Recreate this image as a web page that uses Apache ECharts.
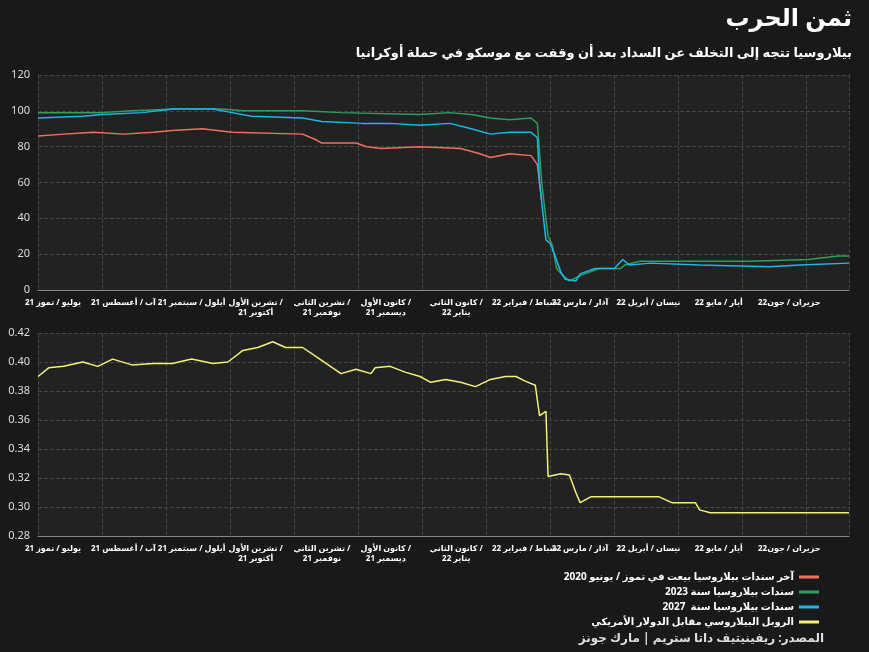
<!DOCTYPE html>
<html><head><meta charset="utf-8">
<script src="https://cdn.jsdelivr.net/npm/echarts@6/dist/echarts.min.js"></script>
<style>html,body{margin:0;background:#191919}#main{width:869px;height:652px}</style>
</head><body><div id="main"></div>
<script>
// x = days since 1 July 2021
var monthTicks = [7, 40, 72, 102, 133, 163, 196, 228, 254, 286, 319, 352];
var monthLabels = ['يوليو / تموز 21', 'آب / أغسطس 21', 'أيلول / سبتمبر 21', 'تشرين الأول /\nأكتوبر 21',
  'تشرين الثاني /\nنوفمبر 21', 'كانون الأول /\nديسمبر 21', 'كانون الثاني /\nيناير 22', 'شباط / فبراير 22',
  'آذار / مارس 22', 'نيسان / أبريل 22', 'أيار / مايو 22', 'حزيران / جون22'];

var bond2020 = [[0,86],[12,87],[26,88],[40,87],[54,88],[63,89],[77,90],[84,89],[91,88],[124,87],[130,84],[133,82],
  [149,82],[154,80],[161,79],[179,80],[198,79],[207,76],[212,74],[221,76],[231,75],[234,70],[235,60],[236,50]];
var bond2023 = [[0,99],[30,99],[44,100],[65,101],[86,101],[96,100],[124,100],[142,99],[179,98],[193,99],[203,98],
  [212,96],[221,95],[231,96],[234,93],[236,60],[239,30],[241,25],[243,12],[246,8],[249,5],[254,8],[263,12],
  [273,12],[275,14],[282,16],[333,16],[361,17],[375,19],[380,19]];
var bond2027 = [[0,96],[21,97],[30,98],[49,99],[63,101],[82,101],[91,99],[100,97],[124,96],[133,94],[152,93],
  [165,93],[179,92],[193,93],[203,90],[212,87],[221,88],[231,88],[234,85],[235,60],[238,28],[240,26],[242,20],
  [245,10],[247,6],[252,5],[254,9],[261,12],[270,12],[274,17],[277,14],[287,15],[310,14],[343,13],[357,14],[380,15]];
var ruble = [[0,0.39],[5,0.396],[12,0.397],[21,0.40],[28,0.397],[35,0.402],[44,0.398],[54,0.399],[63,0.399],
  [72,0.402],[82,0.399],[89,0.40],[96,0.408],[103,0.41],[110,0.414],[116,0.41],[124,0.41],[130,0.404],
  [137,0.397],[142,0.392],[149,0.395],[156,0.392],[158,0.396],[165,0.397],[172,0.393],[179,0.39],[184,0.386],
  [191,0.388],[198,0.386],[205,0.383],[212,0.388],[219,0.39],[224,0.39],[228,0.387],[233,0.384],[235,0.363],
  [238,0.366],[239,0.321],[245,0.323],[249,0.322],[252,0.31],[254,0.303],[259,0.307],[263,0.307],[291,0.307],
  [297,0.303],[308,0.303],[310,0.298],[315,0.296],[380,0.296]];

var names = ['آخر سندات بيلاروسيا بيعت في تموز / يونيو 2020', 'سندات بيلاروسيا سنة 2023', 'سندات بيلاروسيا سنة  2027', 'الروبل البيلاروسي مقابل الدولار الأمريكي'];
var fontF = 'Noto Sans, DejaVu Sans';

function xAxis(gi) {
  return {
    type: 'value', gridIndex: gi, min: 0, max: 380, interval: 30,
    axisLine: { lineStyle: { color: '#888' } },
    axisTick: { show: false },
    splitLine: { show: true, lineStyle: { color: '#444', type: 'dashed' } },
    axisLabel: {
      customValues: monthTicks, color: '#fff', fontSize: 8, fontWeight: 'bold', lineHeight: 10,
      hideOverlap: false, showMinLabel: true,
      formatter: function (v) { return monthLabels[monthTicks.indexOf(v)] || ''; }
    }
  };
}
function yAxis(gi, min, max, iv, fmt) {
  return {
    type: 'value', gridIndex: gi, min: min, max: max, interval: iv,
    axisLine: { show: false }, axisTick: { show: false },
    splitLine: { lineStyle: { color: '#444', type: 'dashed' } },
    axisLabel: { color: '#ddd', fontSize: 11, formatter: fmt }
  };
}

var chart = echarts.init(document.getElementById('main'));
chart.setOption({
  backgroundColor: '#191919',
  textStyle: { fontFamily: fontF },
  title: [
    { text: 'ثمن الحرب', right: 12, top: 2, textStyle: { color: '#fff', fontSize: 24, fontWeight: 'bold' } },
    { text: 'بيلاروسيا تتجه إلى التخلف عن السداد بعد أن وقفت مع موسكو في حملة أوكرانيا', right: 12, top: 42,
      textStyle: { color: '#fff', fontSize: 13, fontWeight: 'bold' } },
    { text: 'المصدر: ريفينيتيف داتا ستريم | مارك جونز', right: 40, top: 628, textStyle: { color: '#ddd', fontSize: 12, fontWeight: 'bold' } }
  ],
  grid: [
    { left: 38, right: 20, top: 75, height: 215, backgroundColor: '#222', show: true, borderWidth: 0 },
    { left: 38, right: 20, top: 333, height: 203, backgroundColor: '#222', show: true, borderWidth: 0 }
  ],
  legend: {
    orient: 'vertical', right: 45, top: 567, align: 'right', itemWidth: 20, itemHeight: 3, itemGap: 5,
    icon: 'rect', textStyle: { color: '#fff', fontSize: 10, fontWeight: 'bold' }, data: names
  },
  xAxis: [xAxis(0), xAxis(1)],
  yAxis: [yAxis(0, 0, 120, 20), yAxis(1, 0.28, 0.42, 0.02, function (v) { return v.toFixed(2); })],
  series: [
    { name: names[0], type: 'line', data: bond2020, color: '#f07060', showSymbol: false, lineStyle: { width: 1.5 } },
    { name: names[1], type: 'line', data: bond2023, color: '#2e9e5e', showSymbol: false, lineStyle: { width: 1.5 } },
    { name: names[2], type: 'line', data: bond2027, color: '#19b8e8', showSymbol: false, lineStyle: { width: 1.5 } },
    { name: names[3], type: 'line', data: ruble, xAxisIndex: 1, yAxisIndex: 1, color: '#f4f07a', showSymbol: false, lineStyle: { width: 1.5 } }
  ]
});
</script></body></html>
